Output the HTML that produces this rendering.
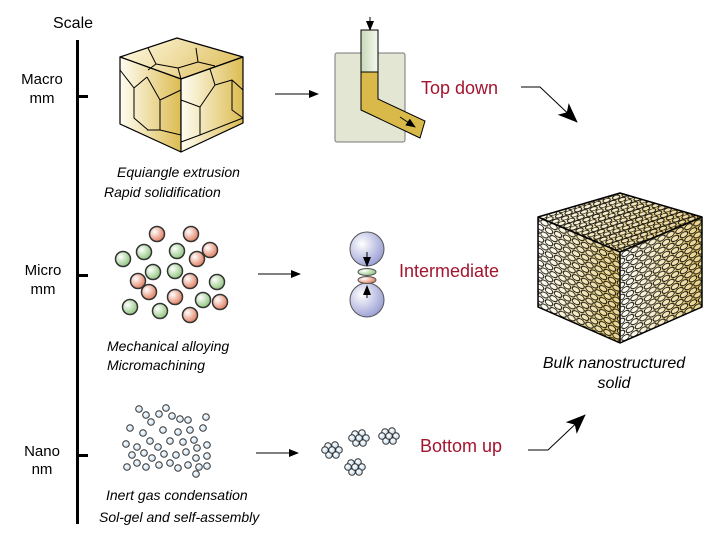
<!DOCTYPE html>
<html><head><meta charset="utf-8"><style>
html,body{margin:0;padding:0;background:#fff;}
svg{display:block;font-family:"Liberation Sans",sans-serif;}
</style></head><body>
<svg width="716" height="535" viewBox="0 0 716 535" xmlns="http://www.w3.org/2000/svg">
<defs>
<linearGradient id="gold" x1="0" y1="0" x2="1" y2="0"><stop offset="0" stop-color="#fffdf2"/><stop offset="1" stop-color="#dcbc52"/></linearGradient>
<linearGradient id="goldT" x1="0" y1="0" x2="1" y2="0.3"><stop offset="0" stop-color="#fffbe8"/><stop offset="1" stop-color="#e2c468"/></linearGradient>
<linearGradient id="plg" x1="0" y1="0" x2="1" y2="0"><stop offset="0" stop-color="#c9d8b8"/><stop offset="1" stop-color="#f4f8ee"/></linearGradient>
<radialGradient id="rg" cx="0.35" cy="0.35" r="0.7"><stop offset="0" stop-color="#fff"/><stop offset="1" stop-color="#e07a5a"/></radialGradient>
<radialGradient id="gg" cx="0.35" cy="0.35" r="0.7"><stop offset="0" stop-color="#fff"/><stop offset="1" stop-color="#8cc47a"/></radialGradient>
<radialGradient id="bg" cx="0.35" cy="0.35" r="0.7"><stop offset="0" stop-color="#fff"/><stop offset="1" stop-color="#9a9fd4"/></radialGradient>
<radialGradient id="ng" cx="0.4" cy="0.4" r="0.7"><stop offset="0" stop-color="#fff"/><stop offset="1" stop-color="#b8d4ea"/></radialGradient>
<pattern id="cellsF" width="9" height="12" patternUnits="userSpaceOnUse" patternTransform="skewY(22)">
<ellipse cx="4.5" cy="3" rx="3.8" ry="2.7" fill="#fff" fill-opacity="0.35" stroke="#000" stroke-width="0.9"/>
<ellipse cx="0" cy="9" rx="3.8" ry="2.7" fill="#fff" fill-opacity="0.35" stroke="#000" stroke-width="0.9"/>
<ellipse cx="9" cy="9" rx="3.8" ry="2.7" fill="#fff" fill-opacity="0.35" stroke="#000" stroke-width="0.9"/>
</pattern>
<pattern id="cellsR" width="9" height="12" patternUnits="userSpaceOnUse" patternTransform="skewY(-23)">
<ellipse cx="4.5" cy="3" rx="3.8" ry="2.7" fill="#fff" fill-opacity="0.35" stroke="#000" stroke-width="0.9"/>
<ellipse cx="0" cy="9" rx="3.8" ry="2.7" fill="#fff" fill-opacity="0.35" stroke="#000" stroke-width="0.9"/>
<ellipse cx="9" cy="9" rx="3.8" ry="2.7" fill="#fff" fill-opacity="0.35" stroke="#000" stroke-width="0.9"/>
</pattern>
<pattern id="cellsT" width="10" height="8" patternUnits="userSpaceOnUse" patternTransform="rotate(-18)">
<ellipse cx="5" cy="2" rx="3.8" ry="2" fill="#fff" fill-opacity="0.35" stroke="#000" stroke-width="0.9"/>
<ellipse cx="0" cy="6" rx="3.8" ry="2" fill="#fff" fill-opacity="0.35" stroke="#000" stroke-width="0.9"/>
<ellipse cx="10" cy="6" rx="3.8" ry="2" fill="#fff" fill-opacity="0.35" stroke="#000" stroke-width="0.9"/>
</pattern>
<marker id="ah" markerWidth="10" markerHeight="8" refX="9" refY="4" orient="auto" markerUnits="userSpaceOnUse"><path d="M0,0 L10,4 L0,8 Z" fill="#000"/></marker>
<marker id="ahb" markerWidth="20" markerHeight="16" refX="19" refY="8" orient="auto" markerUnits="userSpaceOnUse"><path d="M0,0 L20,8 L0,16 L5,8 Z" fill="#000"/></marker>
</defs>

<text x="53" y="28" font-size="16">Scale</text>
<rect x="76" y="40" width="3" height="484" fill="#000"/>
<rect x="76" y="95" width="12" height="3" fill="#000"/>
<rect x="76" y="274" width="12" height="3" fill="#000"/>
<rect x="76" y="454" width="12" height="3" fill="#000"/>
<g font-size="15" text-anchor="middle">
<text x="42" y="84">Macro</text><text x="42" y="103">mm</text>
<text x="43" y="275">Micro</text><text x="43" y="294">mm</text>
<text x="42" y="456">Nano</text><text x="42" y="474">nm</text>
</g>

<g stroke="#000" stroke-width="1.2" stroke-linejoin="round">
<polygon points="120,57 177,38 243,57 181,79" fill="url(#goldT)"/>
<polygon points="120,57 181,79 181,152 120,124" fill="url(#gold)"/>
<polygon points="181,79 243,57 243,123 181,152" fill="url(#gold)"/>
<g fill="none" stroke-width="1">
<polyline points="148,48 156,64 178,68 198,62 196,48"/><polyline points="156,64 148,70"/><polyline points="178,68 181,79"/><polyline points="198,62 215,66"/>
<polyline points="120,70 134,88 134,118 148,130"/><polyline points="134,88 147,77"/><polyline points="147,77 160,100 160,130 181,135"/><polyline points="160,100 181,90"/><polyline points="160,130 147,130"/>
<polyline points="181,100 200,107 215,85 232,80 243,90"/><polyline points="215,85 210,69"/><polyline points="200,107 200,135 181,142"/><polyline points="200,135 225,125 243,118"/><polyline points="232,80 232,110 243,118"/>
</g></g>
<line x1="275" y1="94" x2="318" y2="94" stroke="#000" stroke-width="1" marker-end="url(#ah)"/>

<rect x="335" y="53" width="70" height="89" rx="2" fill="#e4e6d4" stroke="#777" stroke-width="1"/>
<rect x="361" y="30" width="17" height="42" fill="url(#plg)" stroke="#000" stroke-width="1"/>
<polygon points="361,72 378,72 378,99 425,121 420,138 361,110" fill="#d9b94a" stroke="#000" stroke-width="1"/>
<line x1="370" y1="17" x2="370" y2="30" stroke="#000" stroke-width="1" marker-end="url(#ah)"/>
<line x1="400" y1="117" x2="415" y2="127" stroke="#000" stroke-width="1" marker-end="url(#ah)"/>
<text x="421" y="94" font-size="18" fill="#a3142e">Top down</text>
<polyline points="521,87 540,87 577,122" fill="none" stroke="#000" stroke-width="1" marker-end="url(#ahb)"/>

<g stroke="#333" stroke-width="1.5">
<circle cx="157" cy="234" r="7.5" fill="url(#rg)"/><circle cx="191" cy="234" r="7.5" fill="url(#rg)"/>
<circle cx="210" cy="250" r="7.5" fill="url(#rg)"/><circle cx="197" cy="259" r="7.5" fill="url(#rg)"/>
<circle cx="138" cy="281" r="7.5" fill="url(#rg)"/><circle cx="190" cy="281" r="7.5" fill="url(#rg)"/>
<circle cx="149" cy="292" r="7.5" fill="url(#rg)"/><circle cx="175" cy="297" r="7.5" fill="url(#rg)"/>
<circle cx="220" cy="302" r="7.5" fill="url(#rg)"/><circle cx="190" cy="315" r="7.5" fill="url(#rg)"/>
<circle cx="123" cy="259" r="7.5" fill="url(#gg)"/><circle cx="144" cy="252" r="7.5" fill="url(#gg)"/>
<circle cx="177" cy="251" r="7.5" fill="url(#gg)"/><circle cx="153" cy="272" r="7.5" fill="url(#gg)"/>
<circle cx="175" cy="271" r="7.5" fill="url(#gg)"/><circle cx="217" cy="282" r="7.5" fill="url(#gg)"/>
<circle cx="130" cy="307" r="7.5" fill="url(#gg)"/><circle cx="203" cy="300" r="7.5" fill="url(#gg)"/>
<circle cx="160" cy="311" r="7.5" fill="url(#gg)"/>
</g>
<line x1="258" y1="274" x2="300" y2="274" stroke="#000" stroke-width="1" marker-end="url(#ah)"/>
<g stroke="#555" stroke-width="1">
<circle cx="367" cy="249" r="17" fill="url(#bg)"/><circle cx="367" cy="300" r="17" fill="url(#bg)"/>
<ellipse cx="367" cy="272" rx="9" ry="3.5" fill="url(#gg)"/><ellipse cx="367" cy="280" rx="9" ry="3.5" fill="url(#rg)"/>
</g>
<line x1="367" y1="252" x2="367" y2="266" stroke="#000" stroke-width="1" marker-end="url(#ah)"/>
<line x1="367" y1="298" x2="367" y2="286" stroke="#000" stroke-width="1" marker-end="url(#ah)"/>
<text x="399" y="277" font-size="18" fill="#a3142e">Intermediate</text>

<g stroke="#333" stroke-width="1" fill="url(#ng)">
<circle cx="139" cy="409" r="3.3"/><circle cx="166" cy="408" r="3.3"/><circle cx="146" cy="415" r="3.3"/><circle cx="159" cy="414" r="3.3"/><circle cx="172" cy="416" r="3.3"/><circle cx="180" cy="419" r="3.3"/><circle cx="188" cy="420" r="3.3"/><circle cx="206" cy="417" r="3.3"/><circle cx="151" cy="422" r="3.3"/><circle cx="130" cy="428" r="3.3"/><circle cx="143" cy="433" r="3.3"/><circle cx="163" cy="430" r="3.3"/><circle cx="178" cy="432" r="3.3"/><circle cx="190" cy="430" r="3.3"/><circle cx="203" cy="428" r="3.3"/>
<circle cx="126" cy="444" r="3.3"/><circle cx="137" cy="447" r="3.3"/><circle cx="150" cy="441" r="3.3"/><circle cx="158" cy="447" r="3.3"/><circle cx="170" cy="441" r="3.3"/><circle cx="183" cy="442" r="3.3"/><circle cx="194" cy="440" r="3.3"/><circle cx="197" cy="448" r="3.3"/><circle cx="207" cy="445" r="3.3"/>
<circle cx="132" cy="455" r="3.3"/><circle cx="144" cy="453" r="3.3"/><circle cx="152" cy="458" r="3.3"/><circle cx="164" cy="454" r="3.3"/><circle cx="176" cy="455" r="3.3"/><circle cx="186" cy="452" r="3.3"/><circle cx="196" cy="458" r="3.3"/><circle cx="207" cy="456" r="3.3"/>
<circle cx="127" cy="467" r="3.3"/><circle cx="137" cy="463" r="3.3"/><circle cx="146" cy="467" r="3.3"/><circle cx="159" cy="465" r="3.3"/><circle cx="170" cy="463" r="3.3"/><circle cx="178" cy="468" r="3.3"/><circle cx="188" cy="465" r="3.3"/><circle cx="199" cy="467" r="3.3"/><circle cx="207" cy="466" r="3.3"/><circle cx="196" cy="474" r="3.3"/>
</g>
<line x1="256" y1="453" x2="298" y2="453" stroke="#000" stroke-width="1" marker-end="url(#ah)"/>
<g stroke="#333" stroke-width="1" fill="url(#ng)">
<g transform="translate(332,450)"><circle cx="-4" cy="-4" r="3.3"/><circle cx="3" cy="-5" r="3.3"/><circle cx="7" cy="0" r="3.3"/><circle cx="4" cy="5" r="3.3"/><circle cx="-3" cy="5" r="3.3"/><circle cx="-7" cy="0" r="3.3"/><circle cx="0" cy="0" r="3.3"/></g>
<g transform="translate(359,438)"><circle cx="-4" cy="-4" r="3.3"/><circle cx="3" cy="-5" r="3.3"/><circle cx="7" cy="0" r="3.3"/><circle cx="4" cy="5" r="3.3"/><circle cx="-3" cy="5" r="3.3"/><circle cx="-7" cy="0" r="3.3"/><circle cx="0" cy="0" r="3.3"/></g>
<g transform="translate(389,436)"><circle cx="-4" cy="-4" r="3.3"/><circle cx="3" cy="-5" r="3.3"/><circle cx="7" cy="0" r="3.3"/><circle cx="4" cy="5" r="3.3"/><circle cx="-3" cy="5" r="3.3"/><circle cx="-7" cy="0" r="3.3"/><circle cx="0" cy="0" r="3.3"/></g>
<g transform="translate(355,467)"><circle cx="-4" cy="-4" r="3.3"/><circle cx="3" cy="-5" r="3.3"/><circle cx="7" cy="0" r="3.3"/><circle cx="4" cy="5" r="3.3"/><circle cx="-3" cy="5" r="3.3"/><circle cx="-7" cy="0" r="3.3"/><circle cx="0" cy="0" r="3.3"/></g>
</g>
<text x="420" y="452" font-size="18" fill="#a3142e">Bottom up</text>
<polyline points="528,450 548,450 585,415" fill="none" stroke="#000" stroke-width="1" marker-end="url(#ahb)"/>

<g stroke-linejoin="round">
<polygon points="538,217 620,193 702,217 620,252" fill="url(#goldT)"/>
<polygon points="538,217 620,193 702,217 620,252" fill="url(#cellsT)"/>
<polygon points="538,217 620,252 620,343 538,307" fill="url(#gold)"/>
<polygon points="538,217 620,252 620,343 538,307" fill="url(#cellsF)"/>
<polygon points="620,252 702,217 702,307 620,343" fill="url(#gold)"/>
<polygon points="620,252 702,217 702,307 620,343" fill="url(#cellsR)"/>
<g fill="none" stroke="#000" stroke-width="1.5">
<polygon points="538,217 620,193 702,217 702,307 620,343 538,307"/>
<polyline points="538,217 620,252 702,217"/><line x1="620" y1="252" x2="620" y2="343"/>
</g>
</g>
<g font-size="16" font-style="italic" text-anchor="middle">
<text x="614" y="368">Bulk nanostructured</text><text x="614" y="388">solid</text>
</g>

<g font-size="14" font-style="italic">
<text x="117" y="177">Equiangle extrusion</text><text x="104" y="197">Rapid solidification</text>
<text x="107" y="351">Mechanical alloying</text><text x="107" y="370">Micromachining</text>
<text x="106" y="500">Inert gas condensation</text><text x="99" y="522">Sol-gel and self-assembly</text>
</g>
</svg>
</body></html>
